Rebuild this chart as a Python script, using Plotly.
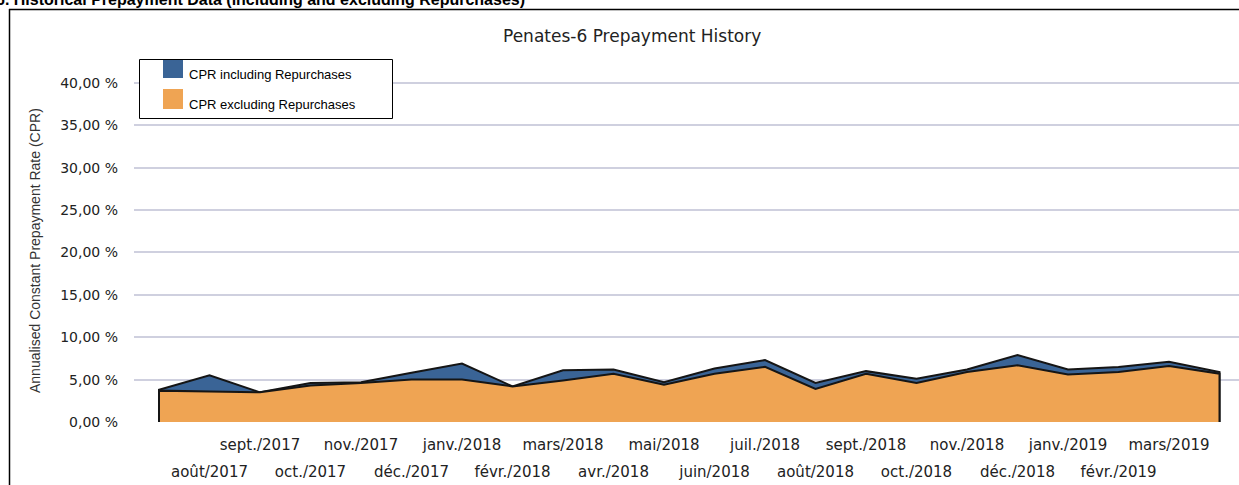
import plotly.graph_objects as go

months = ["juil./2017", "août/2017", "sept./2017", "oct./2017", "nov./2017", "déc./2017",
          "janv./2018", "févr./2018", "mars/2018", "avr./2018", "mai/2018", "juin/2018",
          "juil./2018", "août/2018", "sept./2018", "oct./2018", "nov./2018", "déc./2018",
          "janv./2019", "févr./2019", "mars/2019", "avr./2019"]
cpr_incl = [3.8, 5.5, 3.5, 4.6, 4.7, 5.8, 6.9, 4.2, 6.1, 6.2, 4.7, 6.3,
            7.3, 4.6, 6.0, 5.1, 6.2, 7.9, 6.2, 6.5, 7.1, 5.9]
cpr_excl = [3.7, 3.6, 3.5, 4.3, 4.6, 5.0, 5.0, 4.2, 4.9, 5.7, 4.4, 5.7,
            6.5, 3.9, 5.7, 4.6, 5.9, 6.7, 5.6, 5.9, 6.6, 5.7]
y_ticks = [0, 5, 10, 15, 20, 25, 30, 35, 40]
y_ticktext = ["0,00 %", "5,00 %", "10,00 %", "15,00 %", "20,00 %", "25,00 %",
              "30,00 %", "35,00 %", "40,00 %"]
row1_idx = list(range(2, 21, 2))   # sept./2017 ... mars/2019
row2_idx = list(range(1, 21, 2))   # août/2017 ... févr./2019

W, H = 1239, 485
ML, MR, MT, MB = 134, 0, 49, 63
PW, PH = W - ML - MR, H - MT - MB


def px(xp):
    return (xp - ML) / PW


def py(yp):
    return (H - MB - yp) / PH


idx = list(range(len(months)))
n = len(months) - 1

fig = go.Figure()
for vals, color, name, xa in [(cpr_incl, "#3a6496", "CPR including Repurchases", "x"),
                              (cpr_excl, "#efa453", "CPR excluding Repurchases", "x2")]:
    fig.add_trace(go.Scatter(
        x=[0] + idx + [n], y=[0] + vals + [0], xaxis=xa, yaxis="y",
        mode="lines", fill="toself", fillcolor=color,
        line=dict(color="#151515", width=2), name=name,
        showlegend=False, hoverinfo="skip"))

xtickfont = dict(family="DejaVu Sans", size=15, color="#222222")
ytickfont = dict(family="DejaVu Sans", size=14, color="#222222")
xrange = [-0.495, 21.386]
fig.update_layout(
    width=W, height=H,
    margin=dict(l=ML, r=MR, t=MT, b=MB, pad=0, autoexpand=False),
    paper_bgcolor="white", plot_bgcolor="white",
    xaxis=dict(range=xrange, tickmode="array", tickvals=row1_idx,
               ticktext=[months[i] for i in row1_idx], showgrid=False,
               zeroline=False, ticks="", tickfont=xtickfont, showline=False,
               ticklabelstandoff=12, automargin=False),
    xaxis2=dict(range=xrange, overlaying="x", anchor="y", side="bottom",
                tickmode="array", tickvals=row2_idx,
                ticktext=[months[i] for i in row2_idx], showgrid=False,
                zeroline=False, ticks="", tickfont=xtickfont, showline=False,
                ticklabelstandoff=39, automargin=False),
    yaxis=dict(range=[0, 44], tickmode="array", tickvals=y_ticks, ticktext=y_ticktext,
               showgrid=True, gridcolor="#cfd0df", gridwidth=1.5, zeroline=False,
               ticks="", tickfont=ytickfont, ticklabelstandoff=15, automargin=False),
    showlegend=False,
)

annotations = [
    dict(text="<b>6. Historical Prepayment Data (including and excluding Repurchases)</b>",
         xref="paper", yref="paper", x=px(-6), y=py(-11), xanchor="left", yanchor="top",
         showarrow=False, font=dict(family="Liberation Sans", size=16, color="black")),
    dict(text="Penates-6 Prepayment History", xref="paper", yref="paper",
         x=px(632), y=py(36), xanchor="center", yanchor="middle", showarrow=False,
         font=dict(family="DejaVu Sans", size=17, color="#222222")),
    dict(text="Annualised Constant Prepayment Rate (CPR)", xref="paper", yref="paper",
         x=px(35), y=py(251), xanchor="center", yanchor="middle", textangle=-90,
         showarrow=False, font=dict(family="Liberation Sans", size=14, color="#333333")),
    dict(text="CPR including Repurchases", xref="paper", yref="paper",
         x=px(187), y=py(74), xanchor="left", yanchor="middle", showarrow=False,
         font=dict(family="Liberation Sans", size=13, color="black")),
    dict(text="CPR excluding Repurchases", xref="paper", yref="paper",
         x=px(187), y=py(104), xanchor="left", yanchor="middle", showarrow=False,
         font=dict(family="Liberation Sans", size=13, color="black")),
]
fig.update_layout(annotations=annotations)

shapes = [
    # outer frame
    dict(type="line", xref="paper", yref="paper", x0=px(9), x1=px(1245), y0=py(9.5), y1=py(9.5),
         line=dict(color="black", width=1.5)),
    dict(type="line", xref="paper", yref="paper", x0=px(9.5), x1=px(9.5), y0=py(9), y1=py(490),
         line=dict(color="black", width=1.5)),
    # legend box
    dict(type="rect", xref="paper", yref="paper", x0=px(139.5), x1=px(392.5),
         y0=py(59.5), y1=py(118.5), line=dict(color="black", width=1), fillcolor="white"),
    dict(type="rect", xref="paper", yref="paper", x0=px(163), x1=px(183),
         y0=py(60), y1=py(78), line=dict(width=0), fillcolor="#3a6496"),
    dict(type="rect", xref="paper", yref="paper", x0=px(163), x1=px(183),
         y0=py(89), y1=py(109), line=dict(width=0), fillcolor="#efa453"),
]
fig.update_layout(shapes=shapes)

fig.write_html("out.html", config={"displayModeBar": False},
               post_script="document.body.style.margin='0px';"
                           "document.body.style.overflow='hidden';")
